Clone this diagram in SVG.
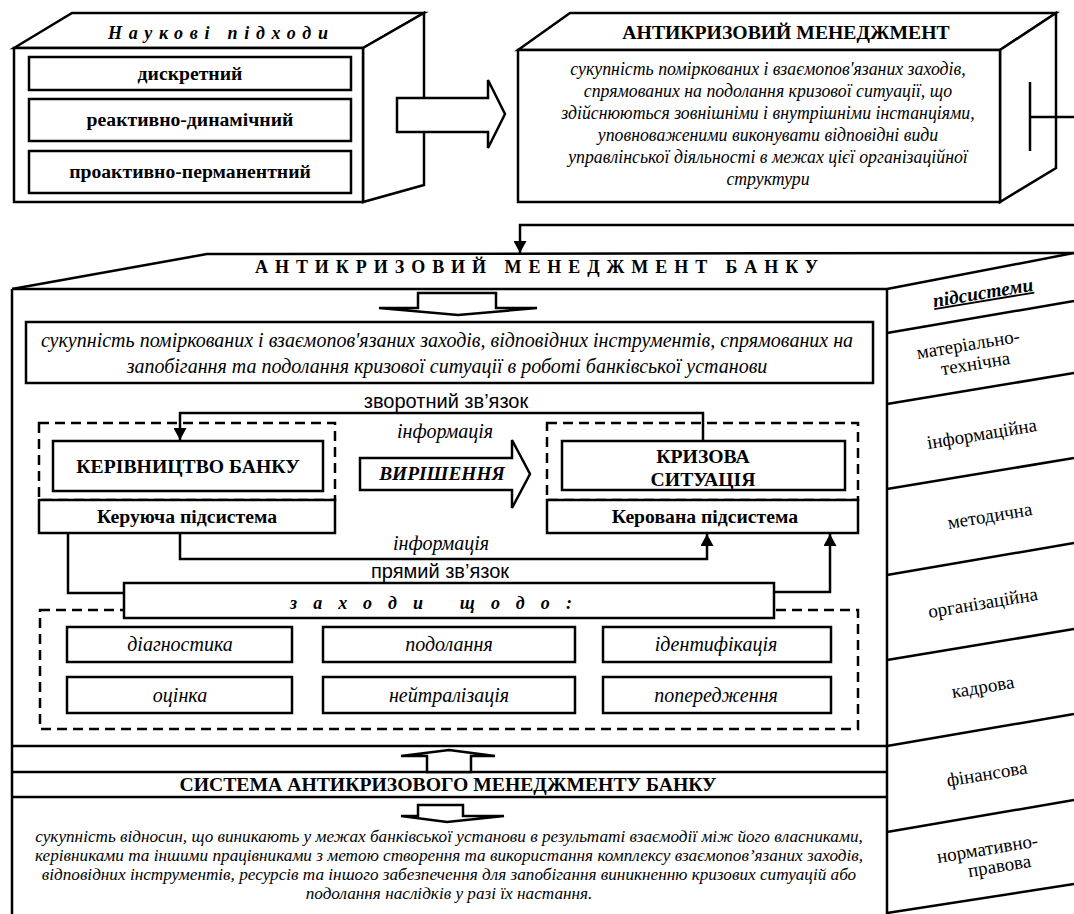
<svg xmlns="http://www.w3.org/2000/svg" width="1074" height="914" viewBox="0 0 1074 914">
<defs>
<marker id="ah" markerWidth="12" markerHeight="13" refX="12" refY="6.5" orient="auto" markerUnits="userSpaceOnUse"><path d="M0,0 L12,6.5 L0,13 Z" fill="#000"/></marker>
<style>
.s{fill:#fff;stroke:#000;stroke-width:2.5}
.l{fill:none;stroke:#000;stroke-width:2.5}
.d{fill:none;stroke:#000;stroke-width:2.5;stroke-dasharray:10 6}
.b{font-family:"Liberation Serif",serif;font-weight:bold;font-size:19.7px;text-anchor:middle}
.bi{font-family:"Liberation Serif",serif;font-weight:bold;font-style:italic;font-size:18px}
.i{font-family:"Liberation Serif",serif;font-style:italic;font-size:20px;text-anchor:middle}
.a{font-family:"Liberation Sans",sans-serif;font-size:20px;text-anchor:middle}
.r{font-family:"Liberation Serif",serif;font-size:19px;text-anchor:middle}
</style>
</defs>
<rect width="1074" height="914" fill="#fff"/>

<g id="node-approaches">
<polygon class="s" points="14,48 72,13 424,13 363,48"/>
<polygon class="s" points="363,48 424,13 424,185 363,202"/>
<rect class="s" x="14" y="48" width="349" height="154"/>
<text class="bi" x="108" y="39" textLength="220" lengthAdjust="spacing">Наукові підходи</text>
<rect class="s" x="29" y="57" width="322" height="33"/>
<text class="b" x="190" y="80">дискретний</text>
<rect class="s" x="29" y="99" width="322" height="42"/>
<text class="b" x="190" y="126">реактивно-динамічний</text>
<rect class="s" x="29" y="151" width="322" height="42"/>
<text class="b" x="190" y="178">проактивно-перманентний</text>
</g>

<g id="arrow-big">
<polygon class="s" points="397,98 488,98 488,80 505,114 488,148 488,132 397,132"/>
</g>

<g id="node-acm">
<polygon class="s" points="518,50 570,13 1056,13 1000,50"/>
<polygon class="s" points="1000,50 1056,13 1056,168 1000,202"/>
<rect class="s" x="518" y="50" width="482" height="152"/>
<text class="b" x="786" y="39">АНТИКРИЗОВИЙ  МЕНЕДЖМЕНТ</text>
<text class="i" x="768" y="75" style="font-size:17.8px">сукупність поміркованих і взаємопов'язаних заходів,</text>
<text class="i" x="768" y="97" style="font-size:17.8px">спрямованих на подолання кризової ситуації, що</text>
<text class="i" x="768" y="119" style="font-size:17.8px">здійснюються зовнішніми і внутрішніми інстанціями,</text>
<text class="i" x="768" y="141" style="font-size:17.8px">уповноваженими виконувати відповідні види</text>
<text class="i" x="768" y="163" style="font-size:17.8px">управлінської діяльності в межах цієї організаційної</text>
<text class="i" x="768" y="185" style="font-size:17.8px">структури</text>
<line class="l" x1="1030" y1="82" x2="1030" y2="151"/>
</g>

<g id="node-bank-acm">
<polyline class="l" points="12,289 207,254 1074,253"/>
<text class="b" x="255" y="273" textLength="563" lengthAdjust="spacing" style="text-anchor:start;font-size:18px">АНТИКРИЗОВИЙ МЕНЕДЖМЕНТ БАНКУ</text>
<line class="l" x1="12" y1="289" x2="887" y2="289"/>
<line class="l" x1="12" y1="289" x2="12" y2="914"/>
<line class="l" x1="887" y1="289" x2="887" y2="914"/>
<polygon class="s" points="418,293 496,293 496,308 537,308 458,315 379,308 418,308"/>
<rect class="s" x="26" y="322" width="847" height="61"/>
<text class="i" x="447" y="347">сукупність поміркованих і взаємопов'язаних заходів, відповідних інструментів, спрямованих на</text>
<text class="i" x="447" y="373">запобігання та подолання кризової ситуації в роботі банківської установи</text>
<line class="l" x1="12" y1="746" x2="887" y2="746"/>
</g>

<g id="node-controlling">
<rect class="d" x="39" y="423" width="296" height="77"/>
<rect class="s" x="53" y="441" width="270" height="50"/>
<text class="b" x="188" y="473">КЕРІВНИЦТВО БАНКУ</text>
<rect class="s" x="39" y="500" width="296" height="33"/>
<text class="b" x="187" y="523">Керуюча підсистема</text>
</g>

<g id="node-decision">
<polygon class="s" points="360,458 512,458 512,440 530,474 512,508 512,490 360,490"/>
<text class="bi" x="442" y="480" style="text-anchor:middle;font-size:19.4px">ВИРІШЕННЯ</text>
</g>

<g id="node-controlled">
<rect class="d" x="547" y="423" width="311" height="77"/>
<rect class="s" x="562" y="441" width="283" height="49"/>
<text class="b" x="703" y="463">КРИЗОВА</text>
<text class="b" x="703" y="486">СИТУАЦІЯ</text>
<rect class="s" x="547" y="500" width="311" height="33"/>
<text class="b" x="705" y="523">Керована підсистема</text>
</g>

<g id="node-measures">
<rect class="d" x="40" y="610" width="818" height="119"/>
<rect class="s" x="124" y="583" width="650" height="35"/>
<text class="bi" x="290" y="609" textLength="282" lengthAdjust="spacing">заходи щодо:</text>
<rect class="s" x="67" y="627" width="225" height="35"/>
<text class="i" x="180" y="651">діагностика</text>
<rect class="s" x="323" y="627" width="252" height="35"/>
<text class="i" x="449" y="651">подолання</text>
<rect class="s" x="603" y="627" width="228" height="35"/>
<text class="i" x="716" y="651">ідентифікація</text>
<rect class="s" x="67" y="677" width="225" height="36"/>
<text class="i" x="180" y="702">оцінка</text>
<rect class="s" x="323" y="677" width="252" height="36"/>
<text class="i" x="449" y="702">нейтралізація</text>
<rect class="s" x="603" y="677" width="228" height="36"/>
<text class="i" x="716" y="702">попередження</text>
</g>

<g id="node-system">
<line class="l" x1="12" y1="772" x2="887" y2="772"/>
<line class="l" x1="12" y1="797" x2="887" y2="797"/>
<polygon class="s" points="449,750 495,756 471,756 471,772 427,772 427,756 401,756"/>
<text class="b" x="448" y="791">СИСТЕМА АНТИКРИЗОВОГО МЕНЕДЖМЕНТУ БАНКУ</text>
<polygon class="s" points="418,805 463,805 463,816 504,816 447,822 401,816 418,816"/>
<text class="i" x="449" y="842" style="font-size:17.2px">сукупність відносин, що виникають у межах банківської установи в результаті взаємодії між його власниками,</text>
<text class="i" x="449" y="861" style="font-size:17.2px">керівниками та іншими працівниками з метою  створення та використання  комплексу взаємопов’язаних заходів,</text>
<text class="i" x="449" y="880" style="font-size:17.2px">відповідних інструментів, ресурсів та іншого забезпечення  для запобігання виникненню кризових ситуацій або</text>
<text class="i" x="449" y="899" style="font-size:17.2px">подолання наслідків у разі їх настання.</text>
</g>

<g id="node-subsystems">
<line class="l" x1="887" y1="289" x2="1074" y2="253"/>
<line class="l" x1="887" y1="333" x2="1074" y2="301"/>
<line class="l" x1="887" y1="404" x2="1074" y2="373"/>
<line class="l" x1="887" y1="489" x2="1074" y2="458"/>
<line class="l" x1="887" y1="575" x2="1074" y2="543"/>
<line class="l" x1="887" y1="660" x2="1074" y2="629"/>
<line class="l" x1="887" y1="746" x2="1074" y2="714"/>
<line class="l" x1="887" y1="832" x2="1074" y2="800"/>
<line class="l" x1="887" y1="913" x2="1074" y2="884"/>
<text class="bi" x="983" y="299" transform="rotate(-9.4 983 293)" style="text-anchor:middle;font-size:19.5px;text-decoration:underline">підсистеми</text>
<text class="r" x="970" y="350" transform="rotate(-9.4 972 355)">матеріально-</text>
<text class="r" x="974" y="370" transform="rotate(-9.4 972 355)">технічна</text>
<text class="r" x="982" y="440" transform="rotate(-9.4 982 435)">інформаційна</text>
<text class="r" x="990" y="522" transform="rotate(-9.4 990 517)">методична</text>
<text class="r" x="983" y="609" transform="rotate(-9.4 983 604)">організаційна</text>
<text class="r" x="983" y="693" transform="rotate(-9.4 983 688)">кадрова</text>
<text class="r" x="987" y="780" transform="rotate(-9.4 987 775)">фінансова</text>
<text class="r" x="989" y="854" transform="rotate(-9.4 993 858)">нормативно-</text>
<text class="r" x="998" y="873" transform="rotate(-9.4 993 858)">правова</text>
</g>

<g id="connectors">
<path class="l" d="M1030,117 H1078 V225 H520 V253" marker-end="url(#ah)"/>
<path class="l" d="M703,441 V413 H180 V440" marker-end="url(#ah)"/>
<path class="l" d="M180,533 V559 H707 V534" marker-end="url(#ah)"/>
<path class="l" d="M68,533 V593 H124"/>
<path class="l" d="M774,592 H830 V534" marker-end="url(#ah)"/>
<text class="a" x="446" y="408">зворотний зв’язок</text>
<text class="i" x="445" y="438">інформація</text>
<text class="i" x="441" y="550">інформація</text>
<text class="a" x="440" y="578">прямий зв’язок</text>
</g>
</svg>
